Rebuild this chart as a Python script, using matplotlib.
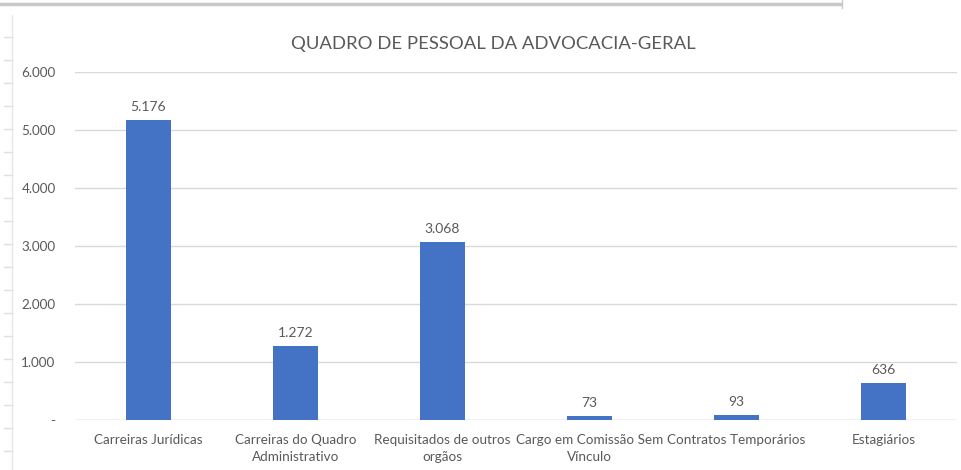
import matplotlib
matplotlib.use("Agg")
import matplotlib.pyplot as plt
from matplotlib.lines import Line2D

categories = ["Carreiras Jurídicas", "Carreiras do Quadro\nAdministrativo",
              "Requisitados de outros\norgãos", "Cargo em Comissão Sem\nVínculo",
              "Contratos Temporários", "Estagiários"]
values = [5176, 1272, 3068, 73, 93, 636]
yticks = [0, 1000, 2000, 3000, 4000, 5000, 6000]
title = "QUADRO DE PESSOAL DA ADVOCACIA-GERAL"

def fmt(v):
    return "-" if v == 0 else f"{v:,}".replace(",", ".")

plt.rcParams['font.family'] = ['Lato', 'DejaVu Sans']
W, H = 961, 470
fig = plt.figure(figsize=(W/100, H/100), dpi=100)
ax = fig.add_axes([75/W, 50/H, (957-75)/W, (420-72)/H])

bar_color = "#4472C4"
text_color = "#595959"
grid_color = "#D9D9D9"

x = list(range(len(categories)))
ax.bar(x, values, width=0.31, color=bar_color, zorder=3)
ax.set_xlim(-0.5, len(categories) - 0.5)
ax.set_ylim(0, 6000)
ax.set_yticks(yticks)
ax.set_yticklabels([fmt(v) for v in yticks])
ax.set_xticks(x)
ax.set_xticklabels(categories, linespacing=1.5)
ax.tick_params(axis='both', length=0, colors=text_color, labelsize=9.7)
ax.tick_params(axis='y', pad=14)
ax.tick_params(axis='x', pad=10)
for s in ax.spines.values():
    s.set_visible(False)
ax.yaxis.grid(True, color=grid_color, linewidth=1, zorder=0)
ax.axhline(0, color=grid_color, linewidth=1, zorder=2)

for xi, v in zip(x, values):
    ax.annotate(fmt(v), (xi, v), xytext=(0, 5), textcoords="offset points",
                ha="center", va="bottom", color=text_color, fontsize=10)

fig.text(493/W, 1 - 44/H, title, ha="center", va="center", color=text_color, fontsize=13.3)

# screenshot frame artifacts
fig.add_artist(Line2D([0, 840/W], [1 - 4/H, 1 - 4/H], color="#C8C8C8", linewidth=2.5))
fig.add_artist(Line2D([842/W, 842/W], [1 - 8/H, 1], color="#C8C8C8", linewidth=1))
fig.add_artist(Line2D([12/W, 12/W], [0, 1 - 15/H], color="#E6E6E6", linewidth=1))
for ty in range(37, 470, 23):
    fig.add_artist(Line2D([4/W, 12/W], [1 - ty/H, 1 - ty/H], color="#E0E0E0", linewidth=1))

fig.savefig("out.png", dpi=100)
